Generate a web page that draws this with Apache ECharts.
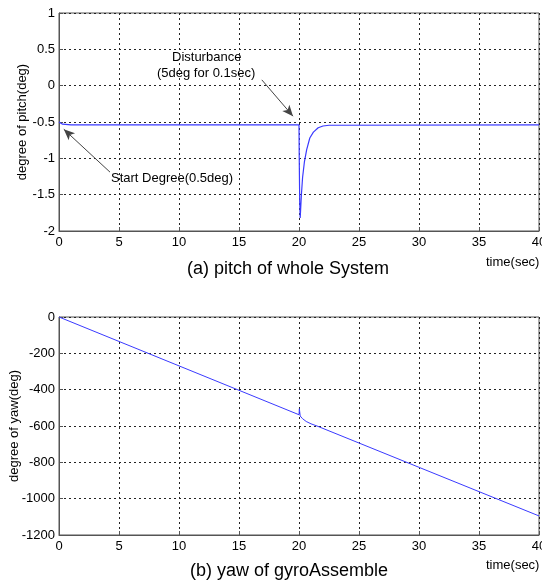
<!DOCTYPE html>
<html>
<head>
<meta charset="utf-8">
<script src="https://cdn.jsdelivr.net/npm/echarts@6/dist/echarts.min.js"></script>
<style>
  html, body { margin: 0; padding: 0; background: #fff; }
  #chart { width: 542px; height: 585px; }
</style>
</head>
<body>
<div id="chart"></div>
<script>
// time ticks shared by both plots
const xTicks = [0, 5, 10, 15, 20, 25, 30, 35, 40];

// (a) pitch of whole system, [time, deg]
const pitchData = [
  [0, -0.5], [0.3, -0.53], [1, -0.54], [20, -0.54],
  [20.02, -1.0], [20.06, -1.6], [20.1, -1.82], [20.2, -1.5],
  [20.3, -1.26], [20.45, -1.05], [20.64, -0.88], [20.9, -0.72],
  [21.2, -0.64], [21.6, -0.58], [22, -0.555], [22.5, -0.545], [40, -0.54]
];

// (b) yaw of gyroAssemble, [time, deg]
const yawData = [
  [0, 0], [20, -538], [20.03, -505], [20.1, -545], [20.3, -560],
  [20.6, -575], [21, -588], [21.5, -600], [40, -1095]
];

// annotation arrows [from, to] in data coords
const disturbArrow = [[16.9, 0.08], [19.5, -0.42]];
const startArrow = [[4.25, -1.19], [0.4, -0.6]];

const font = 'Liberation Sans, Arial, sans-serif';
const chart = echarts.init(document.getElementById('chart'));

function xAxis(gridIndex) {
  return {
    gridIndex: gridIndex,
    type: 'value',
    min: 0, max: 40, interval: 5,
    axisLine: { show: true, onZero: false, lineStyle: { color: '#555' } },
    axisTick: { show: true, inside: true, length: 4, lineStyle: { color: '#555' } },
    axisLabel: { color: '#000', fontSize: 13, fontFamily: font, margin: 5, hideOverlap: false },
    splitLine: { show: true, lineStyle: { color: '#222', type: [2, 3], width: 1 } }
  };
}

function yAxis(gridIndex, min, max, step, name, gap) {
  return {
    gridIndex: gridIndex,
    type: 'value',
    min: min, max: max, interval: step,
    name: name,
    nameLocation: 'middle',
    nameGap: gap,
    nameMoveOverlap: false,
    nameTextStyle: { color: '#000', fontSize: 13, fontFamily: font },
    axisLine: { show: true, onZero: false, lineStyle: { color: '#555' } },
    axisTick: { show: true, inside: true, length: 4, lineStyle: { color: '#555' } },
    axisLabel: { color: '#000', fontSize: 13, fontFamily: font, margin: 4, formatter: v => String(v) },
    splitLine: { show: true, lineStyle: { color: '#222', type: [2, 3], width: 1 } }
  };
}

function arrow(pair) {
  return [
    { coord: pair[0], symbol: 'none' },
    { coord: pair[1], symbol: 'arrow', symbolSize: [7, 11] }
  ];
}

const option = {
  backgroundColor: '#fff',
  animation: false,
  grid: [
    { left: 59, right: 3, top: 13, height: 218, show: true, borderColor: '#555', borderWidth: 1, containLabel: false, outerBoundsMode: 'none' },
    { left: 59, right: 3, top: 317, height: 218, show: true, borderColor: '#555', borderWidth: 1, containLabel: false, outerBoundsMode: 'none' }
  ],
  xAxis: [xAxis(0), xAxis(1)],
  yAxis: [
    yAxis(0, -2, 1, 0.5, 'degree of pitch(deg)', 30),
    yAxis(1, -1200, 0, 200, 'degree of yaw(deg)', 38)
  ],
  series: [
    {
      type: 'line', xAxisIndex: 0, yAxisIndex: 0,
      data: pitchData, showSymbol: false,
      lineStyle: { color: '#3a3aff', width: 1.2 },
      markLine: {
        silent: true,
        symbol: ['none', 'arrow'],
        label: { show: false },
        lineStyle: { color: '#444', width: 1, type: 'solid' },
        data: [arrow(disturbArrow), arrow(startArrow)]
      }
    },
    {
      type: 'line', xAxisIndex: 1, yAxisIndex: 1,
      data: yawData, showSymbol: false,
      lineStyle: { color: '#3a3aff', width: 1 }
    }
  ],
  graphic: [
    { type: 'text', left: 172, top: 51, style: { text: 'Disturbance', fill: '#000', font: '13px ' + font } },
    { type: 'text', left: 157, top: 67, style: { text: '(5deg for 0.1sec)', fill: '#000', font: '13px ' + font } },
    { type: 'text', left: 111, top: 172, style: { text: 'Start Degree(0.5deg)', fill: '#000', font: '13px ' + font } },
    { type: 'text', left: 486, top: 256, style: { text: 'time(sec)', fill: '#000', font: '13px ' + font } },
    { type: 'text', left: 486, top: 559, style: { text: 'time(sec)', fill: '#000', font: '13px ' + font } },
    { type: 'text', left: 187, top: 260, style: { text: '(a) pitch of whole System', fill: '#000', font: '18px ' + font } },
    { type: 'text', left: 190, top: 562, style: { text: '(b) yaw of gyroAssemble', fill: '#000', font: '18px ' + font } }
  ]
};

chart.setOption(option);
</script>
</body>
</html>
